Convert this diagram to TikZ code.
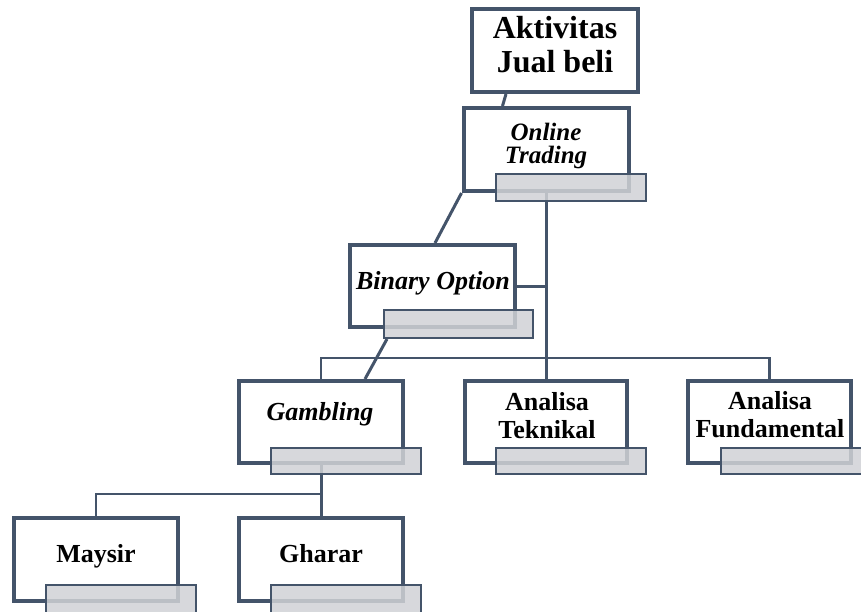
\documentclass[tikz,border=0pt]{standalone}
\usepackage{fontspec}
\setmainfont{Liberation Serif}
\definecolor{slate}{HTML}{44546A}
\definecolor{bargray}{HTML}{D0D2D6}
\begin{document}
\begin{tikzpicture}[x=1pt,y=-1pt,
  box/.style={draw=slate,line width=4pt,fill=white,minimum width=166pt,minimum height=83pt,inner sep=0pt},
  bar/.style={draw=slate,line width=2pt,fill=bargray,fill opacity=0.85,minimum width=150pt,minimum height=27pt,inner sep=0pt},
  conn/.style={draw=slate,line width=3pt},
  bus/.style={draw=slate,line width=2.5pt},
  lbl/.style={inner sep=0pt,align=center,text=black}]
\useasboundingbox (0,0) rectangle (861,611);
\fill[white] (0,0) rectangle (861,611);
% boxes
\node[box] (akt) at (555,50.5) {};
\node[box,minimum width=165pt] (online) at (546,149.5) {};
\node[box,minimum width=165pt,minimum height=82pt] (binary) at (432.5,286) {};
\node[box,minimum width=164pt,minimum height=82pt] (gambling) at (321,422) {};
\node[box,minimum width=162pt,minimum height=82pt] (teknikal) at (546,422) {};
\node[box,minimum width=163pt,minimum height=82pt] (fundamental) at (769.5,422) {};
\node[box,minimum width=164pt] (maysir) at (96,559.5) {};
\node[box,minimum width=164pt] (gharar) at (321,559.5) {};
% connectors
\draw[conn] ([xshift=36pt]akt.south west) -- ([xshift=41pt]online.north west);
\draw[conn] (online.south west) -- ([xshift=87pt]binary.north west);
\draw[conn] (online.south |- online.south) -- (teknikal.north);
\draw[conn] (binary.east) -- (binary.east -| teknikal.north);
\draw[bus] (gambling.north) -- ++(0,-21) -| (fundamental.north);
\draw[conn] (gambling.south) -- (gharar.north);
\draw[bus] (maysir.north) -- ++(0,-22) -| (gharar.north);
% bars
\node[bar] (onlineBar) at (571,187.5) {};
\node[bar,minimum width=149pt,minimum height=28pt] (binaryBar) at (458.5,324) {};
\node[bar,minimum height=26pt] (gamblingBar) at (346,461) {};
\node[bar,minimum height=26pt] (teknikalBar) at (571,461) {};
\node[bar,minimum height=26pt] (fundamentalBar) at (795.5,461) {};
\node[bar,minimum height=35pt] (maysirBar) at (121,602.5) {};
\node[bar,minimum height=35pt] (ghararBar) at (346,602.5) {};
\draw[conn] ([xshift=4pt]binaryBar.south west) -- ([xshift=128pt]gambling.north west);
% labels
\node[lbl,font=\fontsize{32}{34}\selectfont\bfseries] (aktT) at (555,45) {Aktivitas\\Jual beli};
\node[lbl,font=\fontsize{25}{23}\selectfont\bfseries\itshape] (onlineT) at (546,146) {Online\\Trading};
\node[lbl,anchor=base,font=\fontsize{26}{28}\selectfont\bfseries\itshape] (binaryT) at (433,289) {Binary Option};
\node[lbl,anchor=base,font=\fontsize{26}{28}\selectfont\bfseries\itshape] (gamblingT) at (320,420) {Gambling};
\node[lbl,font=\fontsize{26}{28}\selectfont\bfseries] (teknikalT) at (547,416) {Analisa\\Teknikal};
\node[lbl,font=\fontsize{26}{28}\selectfont\bfseries] (fundamentalT) at (770,415) {Analisa\\Fundamental};
\node[lbl,anchor=base,font=\fontsize{26}{28}\selectfont\bfseries] (maysirT) at (96,562) {Maysir};
\node[lbl,anchor=base,font=\fontsize{26}{28}\selectfont\bfseries] (ghararT) at (321,562) {Gharar};
\end{tikzpicture}
\end{document}
